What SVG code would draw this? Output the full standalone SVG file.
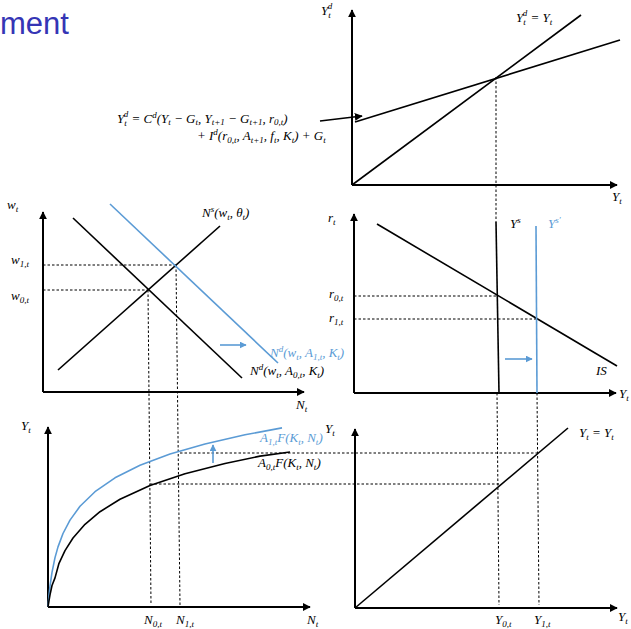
<svg xmlns="http://www.w3.org/2000/svg" width="631" height="629" viewBox="0 0 631 629">
<defs>
<marker id="ah" viewBox="0 0 10 10" refX="9" refY="5" markerWidth="8" markerHeight="8" markerUnits="userSpaceOnUse" orient="auto"><path d="M0,0 L10,5 L0,10 z" fill="#000"/></marker>
<marker id="ahb" viewBox="0 0 10 10" refX="9" refY="5" markerWidth="7" markerHeight="7" markerUnits="userSpaceOnUse" orient="auto"><path d="M0,0 L10,5 L0,10 z" fill="#5b9bd5"/></marker>
<style>
.ax{stroke:#000;stroke-width:2;fill:none}
.ln{stroke:#000;stroke-width:1.6;fill:none;stroke-linejoin:round}
.bl{stroke:#5b9bd5;stroke-width:1.6;fill:none;stroke-linejoin:round}
.dt{stroke:#000;stroke-width:1;stroke-dasharray:2.5,2;fill:none}
.m{font-family:"Liberation Serif","DejaVu Serif",serif;font-style:italic;font-size:13px;fill:#000}
.mb{font-family:"Liberation Serif","DejaVu Serif",serif;font-style:italic;font-size:13px;fill:#5b9bd5}
.s{font-size:9px}
.title{font-family:"Liberation Sans","DejaVu Sans",sans-serif;font-size:31px;fill:#3535b5}
</style>
</defs>
<rect width="631" height="629" fill="#fff"/>
<text class="title" x="0" y="34">ment</text>

<g id="connectors">
<path class="dt" d="M496,77 L496,222"/>
<path class="dt" d="M497,393 L499,605"/>
<path class="dt" d="M537,393 L539,605"/>
<path class="dt" d="M43,265 L176,265"/>
<path class="dt" d="M43,290 L148,290"/>
<path class="dt" d="M148,290 L151,605"/>
<path class="dt" d="M176,265 L180,605"/>
<path class="dt" d="M354,296 L496,296"/>
<path class="dt" d="M354,319 L537,319"/>
<path class="dt" d="M180,453 L538,453"/>
<path class="dt" d="M150,484 L499,484"/>
<path class="ln" d="M320,121 L362,116" marker-end="url(#ah)"/>
<path class="bl" d="M220,345 L246,345" marker-end="url(#ahb)"/>
<path class="bl" d="M505,359 L532,359" marker-end="url(#ahb)"/>
<path class="bl" d="M213,463 L213,445" marker-end="url(#ahb)"/>
</g>

<g id="panel-keynesian-cross">
<path class="ax" d="M352,185 L352,10" marker-end="url(#ah)"/>
<path class="ax" d="M352,185 L617,185" marker-end="url(#ah)"/>
<path class="ln" d="M352,185 L581,15"/>
<path class="ln" d="M355,122 L620,40"/>
<text class="m" x="321" y="15">Y<tspan class="s" dy="3">t</tspan><tspan class="s" dx="-3" dy="-9">d</tspan></text>
<text class="m" x="516" y="22">Y<tspan class="s" dy="3">t</tspan><tspan class="s" dx="-3" dy="-9">d</tspan><tspan dy="6"> = Y</tspan><tspan class="s" dy="3">t</tspan></text>
<text class="m" x="612" y="201">Y<tspan class="s" dy="3">t</tspan></text>
</g>

<g id="equation">
<text class="m" x="117" y="123">Y<tspan class="s" dy="3">t</tspan><tspan class="s" dx="-3" dy="-9">d</tspan><tspan dy="6"> = C</tspan><tspan class="s" dy="-5">d</tspan><tspan dy="5">(Y</tspan><tspan class="s" dy="2">t</tspan><tspan dy="-2"> − G</tspan><tspan class="s" dy="2">t</tspan><tspan dy="-2">, Y</tspan><tspan class="s" dy="2">t+1</tspan><tspan dy="-2"> − G</tspan><tspan class="s" dy="2">t+1</tspan><tspan dy="-2">, r</tspan><tspan class="s" dy="2">0,t</tspan><tspan dy="-2">)</tspan></text>
<text class="m" x="197" y="140">+ I<tspan class="s" dy="-5">d</tspan><tspan dy="5">(r</tspan><tspan class="s" dy="3">0,t</tspan><tspan dy="-3">, A</tspan><tspan class="s" dy="3">t+1</tspan><tspan dy="-3">, f</tspan><tspan class="s" dy="3">t</tspan><tspan dy="-3">, K</tspan><tspan class="s" dy="3">t</tspan><tspan dy="-3">) + G</tspan><tspan class="s" dy="3">t</tspan></text>
</g>

<g id="panel-labour-market">
<path class="ax" d="M43,392 L43,212" marker-end="url(#ah)"/>
<path class="ax" d="M43,392 L304,392" marker-end="url(#ah)"/>
<path class="ln" d="M58,370 L220,226"/>
<path class="ln" d="M73,218 L242,378"/>
<path class="bl" d="M110,204 L278,363"/>
<text class="m" x="7" y="209">w<tspan class="s" dy="3">t</tspan></text>
<text class="m" x="11" y="264">w<tspan class="s" dy="3">1,t</tspan></text>
<text class="m" x="11" y="300">w<tspan class="s" dy="3">0,t</tspan></text>
<text class="m" x="296" y="409">N<tspan class="s" dy="3">t</tspan></text>
<text class="m" x="202" y="217">N<tspan class="s" dy="-5">s</tspan><tspan dy="5">(w</tspan><tspan class="s" dy="3">t</tspan><tspan dy="-3">, θ</tspan><tspan class="s" dy="3">t</tspan><tspan dy="-3">)</tspan></text>
<text class="mb" x="270" y="357">N<tspan class="s" dy="-5">d</tspan><tspan dy="5">(w</tspan><tspan class="s" dy="3">t</tspan><tspan dy="-3">, A</tspan><tspan class="s" dy="3">1,t</tspan><tspan dy="-3">, K</tspan><tspan class="s" dy="3">t</tspan><tspan dy="-3">)</tspan></text>
<text class="m" x="250" y="375">N<tspan class="s" dy="-5">d</tspan><tspan dy="5">(w</tspan><tspan class="s" dy="3">t</tspan><tspan dy="-3">, A</tspan><tspan class="s" dy="3">0,t</tspan><tspan dy="-3">, K</tspan><tspan class="s" dy="3">t</tspan><tspan dy="-3">)</tspan></text>
</g>

<g id="panel-is-ys">
<path class="ax" d="M354,393 L354,214" marker-end="url(#ah)"/>
<path class="ax" d="M354,393 L616,393" marker-end="url(#ah)"/>
<path class="ln" d="M377,224 L617,366"/>
<path class="ln" d="M496,222 L499,393"/>
<path class="bl" d="M536,226 L537,393"/>
<text class="m" x="328" y="222">r<tspan class="s" dy="3">t</tspan></text>
<text class="m" x="329" y="298">r<tspan class="s" dy="3">0,t</tspan></text>
<text class="m" x="329" y="322">r<tspan class="s" dy="3">1,t</tspan></text>
<text class="m" x="510" y="228">Y<tspan class="s" dy="-5">s</tspan></text>
<text class="mb" x="548" y="228">Y<tspan class="s" dy="-5">s′</tspan></text>
<text class="m" x="596" y="375">IS</text>
<text class="m" x="619" y="398">Y<tspan class="s" dy="3">t</tspan></text>
</g>

<g id="panel-production">
<path class="ax" d="M48,607 L48,427" marker-end="url(#ah)"/>
<path class="ax" d="M48,607 L310,607" marker-end="url(#ah)"/>
<polyline class="bl" points="48,607 49,595.2 50,586.1 52,572.3 55,557.6 58,546.9 63,533.5 70,520.1 80,506.3 95,491.7 115,477.8 140,465.3 170,454.1 205,444 245,434.8 282,427.9"/>
<polyline class="ln" points="48,607 49,600.5 50,594.9 52,585.5 55,577.9 59,563.3 65,550.6 73,538 85,524.3 100,511.7 120,499.3 150,485.6 185,473.8 225,463.5 260,456.1 290,452"/>
<text class="m" x="21" y="430">Y<tspan class="s" dy="3">t</tspan></text>
<text class="mb" x="260" y="442">A<tspan class="s" dy="3">1,t</tspan><tspan dy="-3">F(K</tspan><tspan class="s" dy="3">t</tspan><tspan dy="-3">, N</tspan><tspan class="s" dy="3">t</tspan><tspan dy="-3">)</tspan></text>
<text class="m" x="258" y="467">A<tspan class="s" dy="3">0,t</tspan><tspan dy="-3">F(K</tspan><tspan class="s" dy="3">t</tspan><tspan dy="-3">, N</tspan><tspan class="s" dy="3">t</tspan><tspan dy="-3">)</tspan></text>
<text class="m" x="144" y="624">N<tspan class="s" dy="3">0,t</tspan></text>
<text class="m" x="176" y="624">N<tspan class="s" dy="3">1,t</tspan></text>
<text class="m" x="307" y="624">N<tspan class="s" dy="3">t</tspan></text>
</g>

<g id="panel-45-degree">
<path class="ax" d="M355,608 L355,429" marker-end="url(#ah)"/>
<path class="ax" d="M355,608 L617,608" marker-end="url(#ah)"/>
<path class="ln" d="M355,608 L568,428"/>
<text class="m" x="325" y="433">Y<tspan class="s" dy="3">t</tspan></text>
<text class="m" x="579" y="437">Y<tspan class="s" dy="3">t</tspan><tspan dy="-3"> = Y</tspan><tspan class="s" dy="3">t</tspan></text>
<text class="m" x="495" y="624">Y<tspan class="s" dy="3">0,t</tspan></text>
<text class="m" x="534" y="624">Y<tspan class="s" dy="3">1,t</tspan></text>
<text class="m" x="618" y="621">Y<tspan class="s" dy="3">t</tspan></text>
</g>
</svg>
